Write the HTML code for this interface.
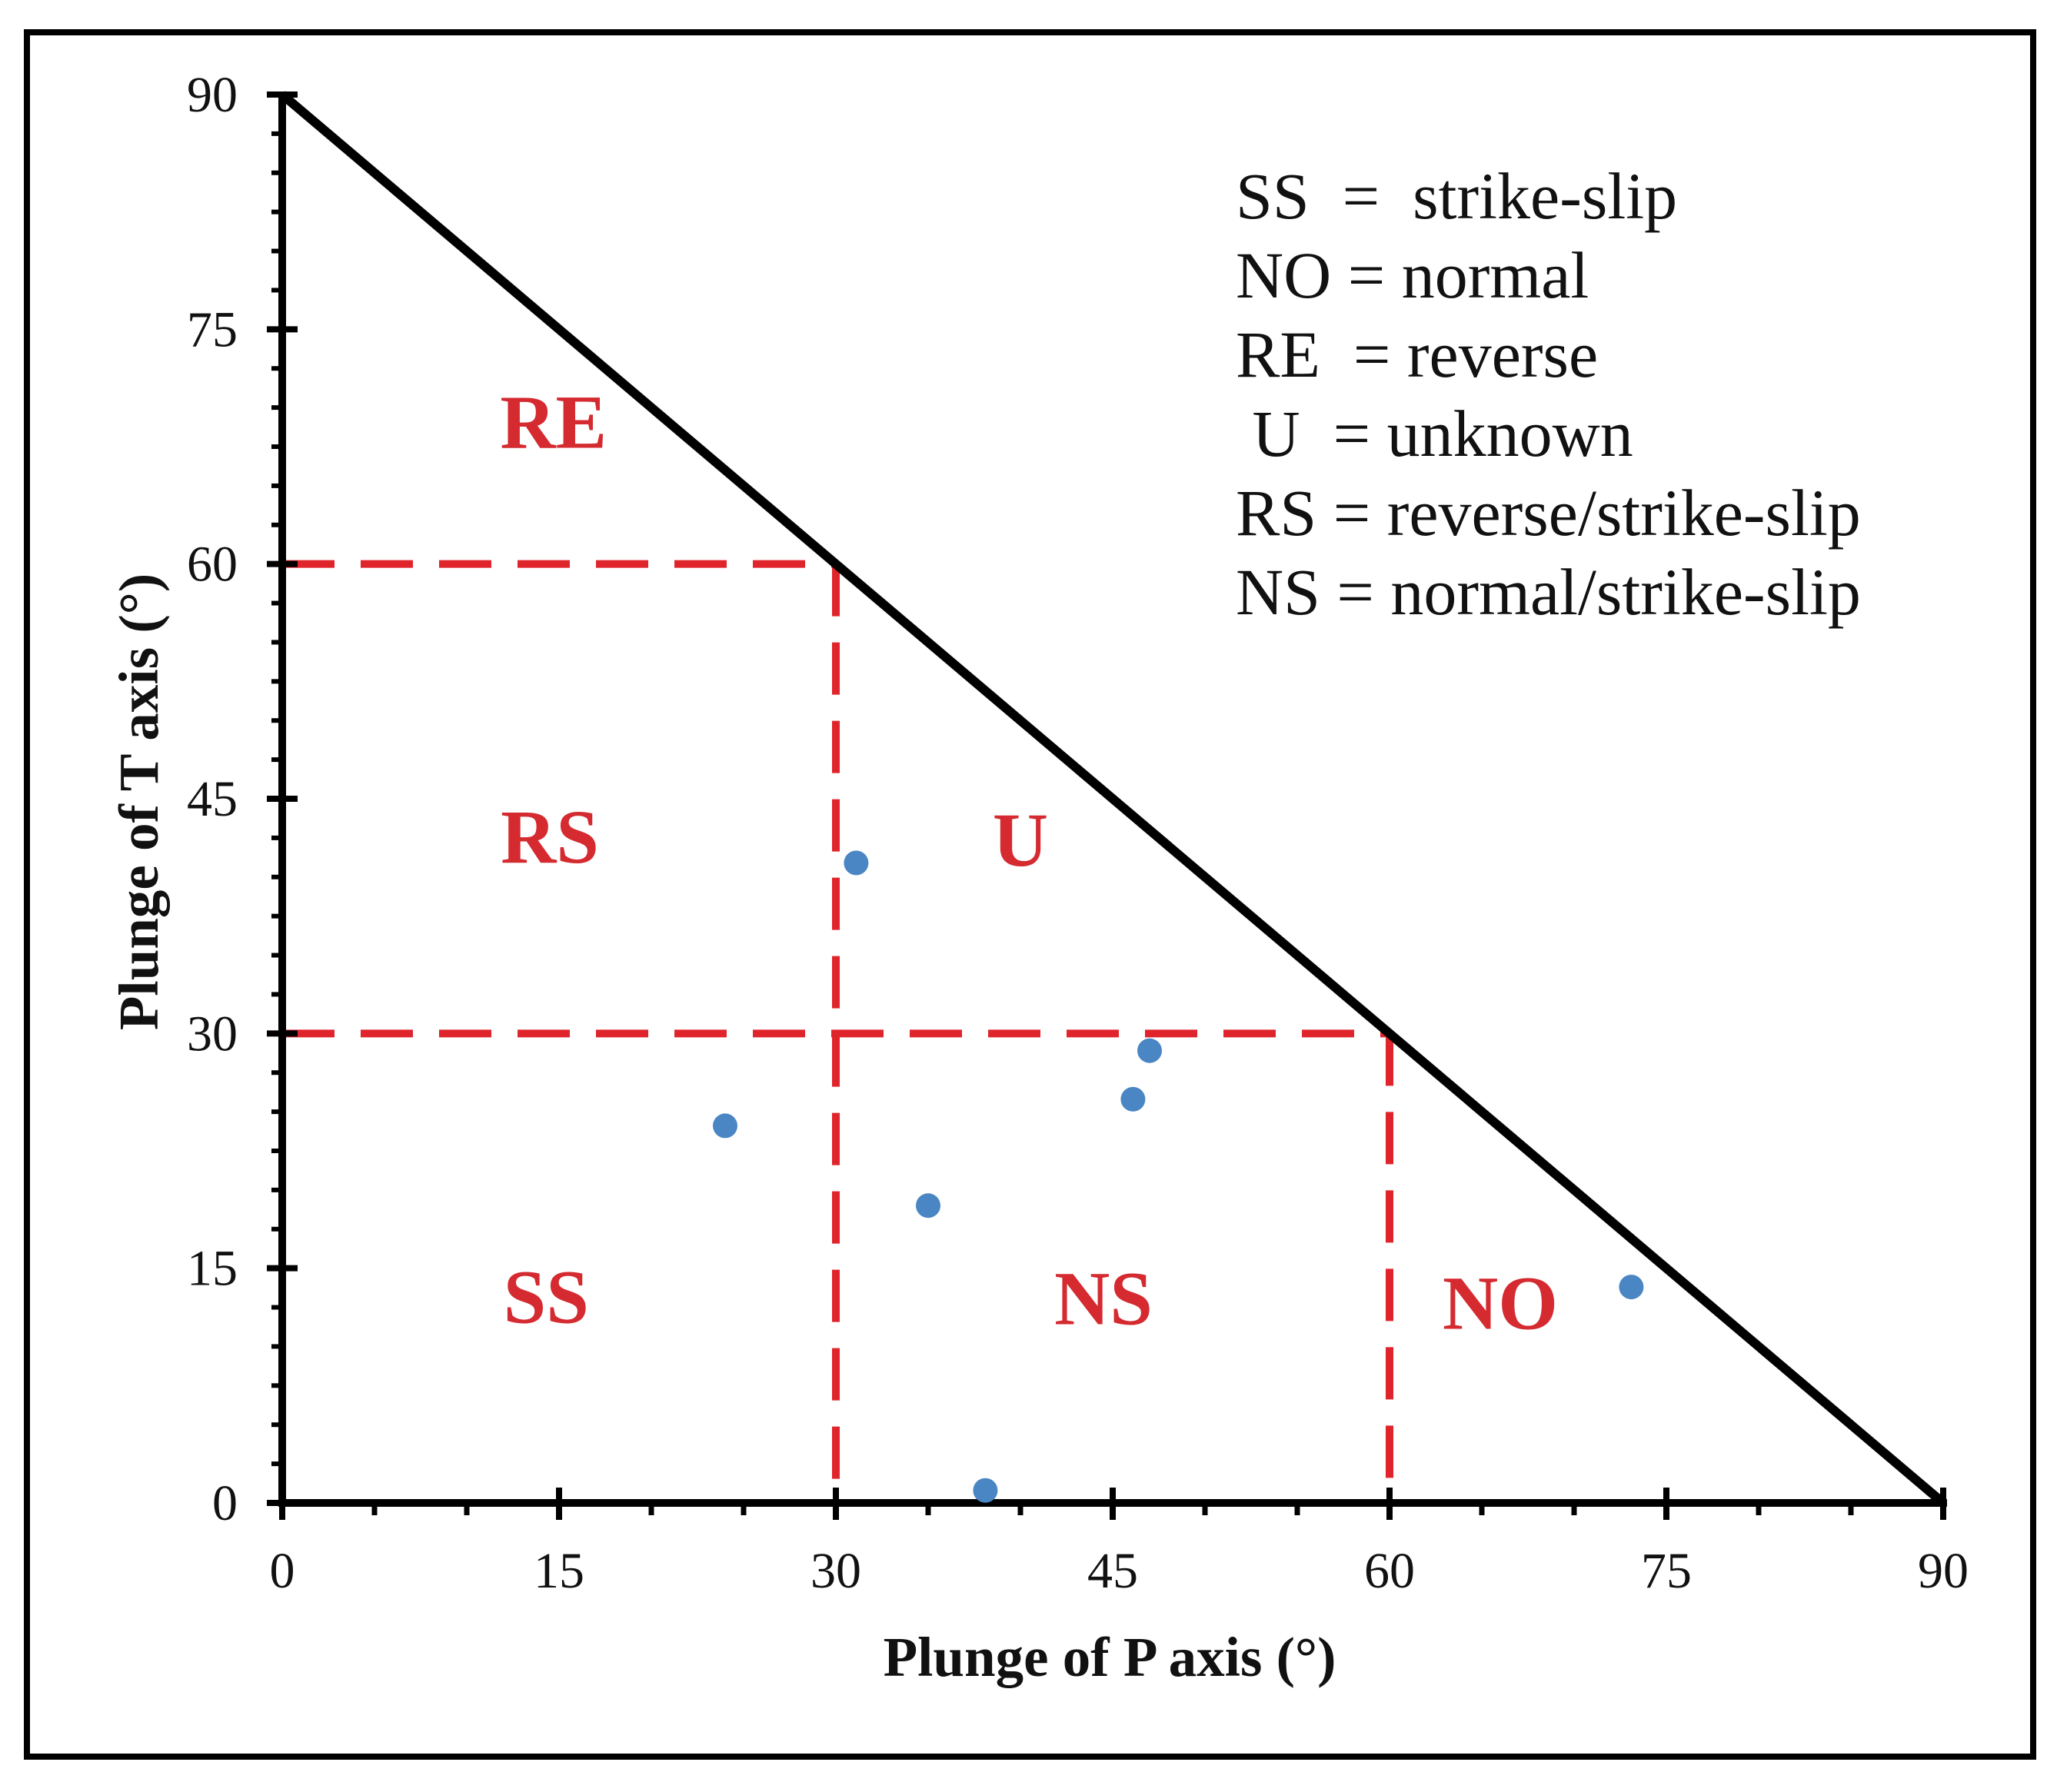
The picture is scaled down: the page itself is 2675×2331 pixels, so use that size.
<!DOCTYPE html>
<html><head><meta charset="utf-8"><style>
html,body{margin:0;padding:0;background:#fff;}
svg{display:block;}
text{font-family:"Liberation Serif",serif;}
</style></head><body>
<svg id="chart" width="2675" height="2331" viewBox="0 0 2675 2331" xmlns="http://www.w3.org/2000/svg">
<rect x="35" y="42" width="2609" height="2243" fill="#fff" stroke="#000" stroke-width="8"/>
<g id="plot"></g>
</svg>
<script>
const xTicks=[0,15,30,45,60,75,90];
const yTicks=[0,15,30,45,60,75,90];
const pPlunge=[24.0,31.1,35.0,38.1,46.1,47.0,73.1];
const tPlunge=[24.1,40.9,19.0,0.8,25.8,28.9,13.8];
const regionNames=["RE","RS","U","SS","NS","NO"];
const regionP=[14.7,14.5,40.0,14.3,44.5,66.0];
const regionT=[69.2,42.7,42.5,13.3,13.2,12.9];
const legendLines=["SS  =  strike-slip","NO = normal","RE  = reverse"," U  = unknown","RS = reverse/strike-slip","NS = normal/strike-slip"];

const NS="http://www.w3.org/2000/svg";
const g=document.getElementById('plot');
const X0=367,X1=2527,Y0=1955,Y1=123;
const sx=v=>X0+(X1-X0)*v/90;
const sy=v=>Y0-(Y0-Y1)*v/90;
function mk(tag,attrs,parent){const e=document.createElementNS(NS,tag);for(const k in attrs)e.setAttribute(k,attrs[k]);(parent||g).appendChild(e);return e;}

const dash={stroke:"#e0242c","stroke-width":10,"stroke-dasharray":"68,34",fill:"none"};
let l;
l=mk('line',Object.assign({x1:sx(0),y1:sy(60),x2:sx(30),y2:sy(60)},dash));


l=mk('line',Object.assign({x1:sx(30),y1:sy(60),x2:sx(30),y2:sy(0)},dash));


l=mk('line',Object.assign({x1:sx(0),y1:sy(30),x2:sx(60),y2:sy(30)},dash));


l=mk('line',Object.assign({x1:sx(60),y1:sy(30),x2:sx(60),y2:sy(0)},dash));



l=mk('line',{x1:sx(0),y1:sy(90),x2:sx(90),y2:sy(0),stroke:"#000","stroke-width":12});



l=mk('line',{x1:sx(0),y1:sy(90)-4,x2:sx(0),y2:sy(0)+5,stroke:"#000","stroke-width":10});


l=mk('line',{x1:sx(0)-5,y1:sy(0),x2:sx(90)+5,y2:sy(0),stroke:"#000","stroke-width":10});



for(let v=5;v<90;v+=5){if(v%15===0)continue;
 l=mk('line',{x1:sx(v),y1:sy(0),x2:sx(v),y2:sy(0)+16,stroke:"#000","stroke-width":7});
 
 }
for(let v=2.5;v<90;v+=2.5){if(v%15===0)continue;
 l=mk('line',{x1:sx(0)-14,y1:sy(v),x2:sx(0),y2:sy(v),stroke:"#000","stroke-width":6});
 
 }

xTicks.forEach(v=>{
 l=mk('line',{x1:sx(v),y1:sy(0)-20,x2:sx(v),y2:sy(0)+22,stroke:"#000","stroke-width":8});
 
 
 const t=mk('text',{x:sx(v),y:sy(0)+110,"text-anchor":"middle","font-size":66,fill:"#111"});
 t.textContent=v;
 
 
});
yTicks.forEach(v=>{
 l=mk('line',{x1:sx(0)-20,y1:sy(v),x2:sx(0)+20,y2:sy(v),stroke:"#000","stroke-width":8});
 
 
 const t=mk('text',{x:sx(0)-58,y:sy(v)+22,"text-anchor":"end","font-size":66,fill:"#111"});
 t.textContent=v;
 
 
});

let t=mk('text',{x:1443,y:2180,"text-anchor":"middle","font-size":73,"font-weight":"bold",fill:"#111"});
t.textContent="Plunge of P axis (°)";


t=mk('text',{x:0,y:0,"text-anchor":"middle","font-size":73,"font-weight":"bold",fill:"#111",transform:"translate(205,1043) rotate(-90)"});
t.textContent="Plunge of T axis (°)";



regionNames.forEach((n,i)=>{
 const e=mk('text',{x:sx(regionP[i]),y:sy(regionT[i])+36,"text-anchor":"middle","font-size":100,"font-weight":"bold",fill:"#d42a30"});
 e.textContent=n;
 
 
});

pPlunge.forEach((p,i)=>{
 const c=mk('circle',{cx:sx(p),cy:sy(tPlunge[i]),r:16,fill:"#4a86c4"});
 
 
});

legendLines.forEach((s,i)=>{
 const e=mk('text',{x:1607,y:284+i*103,"font-size":86,fill:"#111"});
 e.style.whiteSpace="pre";
 e.textContent=s;
 
 
});
</script>
</body></html>
